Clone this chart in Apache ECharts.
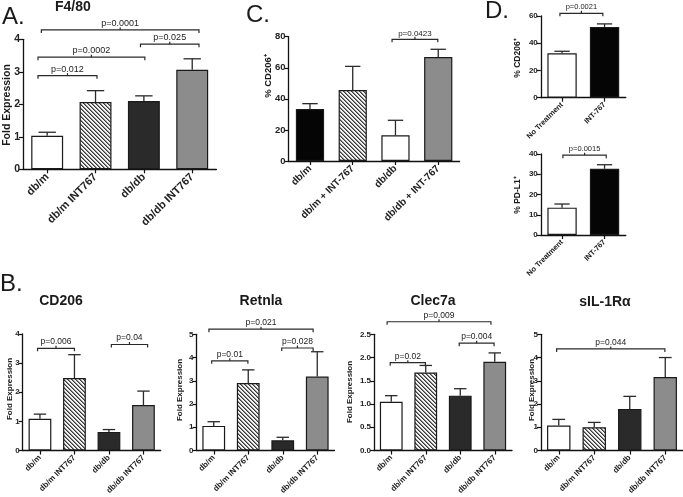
<!DOCTYPE html>
<html>
<head>
<meta charset="utf-8">
<script src="https://cdn.jsdelivr.net/npm/echarts@6/dist/echarts.min.js"></script>
<style>html,body{margin:0;padding:0;background:#fff}#c{width:683px;height:497px}</style>
</head>
<body>
<div id="c"></div>
<script>
// ---------- DATA ----------
const groupsAB = ['db/m', 'db/m INT767', 'db/db', 'db/db INT767'];
const groupsC = ['db/m', 'db/m + INT-767', 'db/db', 'db/db + INT-767'];
const groupsD = ['No Treatment', 'INT-767'];

// Panel A: F4/80
const f480Mean = [1.03, 2.07, 2.10, 3.06];
const f480Err = [0.11, 0.35, 0.16, 0.34];
const f480Brackets = [[-0.19, 1.03, 2.88, 'p=0.012'], [-0.19, 2.02, 3.45, 'p=0.0002'], [1.93, 3.14, 3.85, 'p=0.025'], [-0.12, 3.14, 4.29, 'p=0.0001']];

// Panel C: % CD206+
const cd206PctMean = [33.5, 45.7, 16.5, 66.9];
const cd206PctErr = [3.4, 15.2, 9.7, 5.0];
const cd206PctBrackets = [[1.92, 2.99, 78.3, 'p=0.0423']];

// Panel D
const dCd206Mean = [32.6, 51.9];
const dCd206Err = [1.5, 2.3];
const dCd206Brackets = [[-0.05, 0.96, 62, 'p=0.0021']];
const dPdl1Mean = [13.5, 32.7];
const dPdl1Err = [1.8, 2.0];
const dPdl1Brackets = [[0.02, 1.04, 39.4, 'p=0.0015']];

// Panel B
const bCd206Mean = [1.09, 2.49, 0.64, 1.56];
const bCd206Err = [0.16, 0.80, 0.08, 0.48];
const bCd206Brackets = [[-0.07, 1.0, 3.51, 'p=0.006'], [2.07, 3.12, 3.64, 'p=0.04']];

const retnlaMean = [1.06, 2.90, 0.44, 3.18];
const retnlaErr = [0.18, 0.57, 0.13, 1.07];
const retnlaBrackets = [[-0.06, 0.99, 3.86, 'p=0.01'], [1.97, 2.88, 4.41, 'p=0.028'], [-0.14, 2.88, 5.22, 'p=0.021']];

const clec7aMean = [1.05, 1.68, 1.18, 1.91];
const clec7aErr = [0.13, 0.15, 0.15, 0.19];
const clec7aBrackets = [[-0.03, 0.99, 1.89, 'p=0.02'], [1.97, 2.98, 2.31, 'p=0.004'], [-0.12, 2.89, 2.77, 'p=0.009']];

const sil1rMean = [1.08, 1.00, 1.79, 3.16];
const sil1rErr = [0.26, 0.21, 0.54, 0.84];
const sil1rBrackets = [[-0.06, 2.99, 4.37, 'p=0.044']];

// ---------- RENDER ----------
const FONT = '"Liberation Sans", Arial, sans-serif';
function makeHatch() {
  const c = document.createElement('canvas');
  c.width = 4; c.height = 4;
  const g = c.getContext('2d');
  g.fillStyle = '#f2f2f2'; g.fillRect(0, 0, 4, 4);
  g.fillStyle = '#3a3a3a';
  for (let i = 0; i < 4; i++) { g.fillRect(i, i, 1, 1); }
  g.fillStyle = '#8a8a8a';
  for (let i = 0; i < 4; i++) { g.fillRect((i + 1) % 4, i, 1, 1); }
  return c;
}
const hatch = { image: makeHatch(), repeat: 'repeat' };
const WHITE = '#ffffff', DARK = '#2a2a2a', GRAY = '#8c8c8c', BLACK = '#050505';

const option = { animation: false, backgroundColor: '#fff', grid: [], xAxis: [], yAxis: [], series: [], graphic: [] };

function addPanel(p) {
  const gi = option.grid.length;
  option.grid.push(Object.assign({ containLabel: false }, p.grid));
  option.xAxis.push({
    gridIndex: gi, type: 'category', data: p.cats,
    axisLine: { show: true, lineStyle: { color: '#111', width: 1.3 } },
    axisTick: { show: true, alignWithLabel: true, length: 4, lineStyle: { color: '#111', width: 1.2 } },
    axisLabel: { interval: 0, rotate: 45, fontSize: p.xFont, fontWeight: 'bold', color: '#222', margin: 6, fontFamily: FONT },
    splitLine: { show: false }
  });
  option.yAxis.push({
    gridIndex: gi, type: 'value', min: p.min, max: p.max, interval: p.interval, offset: p.yOffset || 0,
    axisLine: { show: true, lineStyle: { color: '#111', width: 1.3 } },
    axisTick: { show: true, length: 4, lineStyle: { color: '#111', width: 1.2 } },
    axisLabel: { fontSize: p.yFont, fontWeight: 'bold', color: '#222', margin: 3, fontFamily: FONT,
      formatter: p.fmt || (v => String(v)) },
    splitLine: { show: false }
  });
  option.series.push({
    type: 'bar', xAxisIndex: gi, yAxisIndex: gi, barWidth: p.barWidth || '66%',
    data: p.means.map((v, i) => ({ value: v, itemStyle: { color: p.colors[i], borderColor: '#1a1a1a', borderWidth: 1.2 } })),
    z: 2
  });
  const means = p.means, errs = p.errs;
  option.series.push({
    type: 'custom', xAxisIndex: gi, yAxisIndex: gi, z: 3,
    data: means.map((m, i) => [i, m, errs[i]]),
    renderItem: function (params, api) {
      const i = api.value(0), m = api.value(1), e = api.value(2);
      const b = api.coord([i, m]);
      const t = api.coord([i, m + e]);
      const hw = api.size([1, 0])[0] * 0.18;
      const st = { stroke: '#2a2a2a', lineWidth: 1.3 };
      return { type: 'group', children: [
        { type: 'line', shape: { x1: b[0], y1: b[1], x2: t[0], y2: t[1] }, style: st },
        { type: 'line', shape: { x1: t[0] - hw, y1: t[1], x2: t[0] + hw, y2: t[1] }, style: st }
      ] };
    }
  });
  const br = p.brackets;
  option.series.push({
    type: 'custom', xAxisIndex: gi, yAxisIndex: gi, z: 4, clip: false,
    data: br.map(b => [0, b[2]]),
    encode: { x: 0, y: 1 },
    renderItem: function (params, api) {
      const b = br[params.dataIndex];
      const c0 = api.coord([0, b[2]]);
      const c1 = api.coord([1, b[2]]);
      const band = c1[0] - c0[0];
      const x1 = c0[0] + b[0] * band, x2 = c0[0] + b[1] * band, y = c0[1];
      const mid = (x1 + x2) / 2;
      const st = { stroke: '#2a2a2a', lineWidth: 1.2, fill: null };
      return { type: 'group', children: [
        { type: 'polyline', shape: { points: [[x1, y + 3], [x1, y], [x2, y], [x2, y + 3]] }, style: st },
        { type: 'line', shape: { x1: mid, y1: y, x2: mid, y2: y - 2.5 }, style: st },
        { type: 'text', style: { text: b[3], x: mid, y: y - 2, align: 'center', verticalAlign: 'bottom',
          fontSize: p.pFont, fontFamily: FONT, fill: '#222' } }
      ] };
    }
  });
}

addPanel({ cats: groupsAB, means: f480Mean, errs: f480Err, brackets: f480Brackets, colors: [WHITE, hatch, DARK, GRAY],
  grid: { left: 23, top: 39.3, width: 193.4, height: 130 }, min: 0, max: 4, interval: 1, xFont: 11, yFont: 10.5, pFont: 9 });
addPanel({ cats: groupsC, means: cd206PctMean, errs: cd206PctErr, brackets: cd206PctBrackets, colors: [BLACK, hatch, WHITE, GRAY],
  grid: { left: 288.6, top: 36.7, width: 171, height: 124.3 }, min: 0, max: 80, interval: 20, xFont: 10, yFont: 9.5, pFont: 8 });
addPanel({ cats: groupsD, means: dCd206Mean, errs: dCd206Err, brackets: dCd206Brackets, colors: [WHITE, BLACK], barWidth: '69%',
  grid: { left: 540.8, top: 16, width: 85, height: 81.7 }, min: 0, max: 60, interval: 20, xFont: 7.5, yFont: 8, pFont: 7.5 });
addPanel({ cats: groupsD, means: dPdl1Mean, errs: dPdl1Err, brackets: dPdl1Brackets, colors: [WHITE, BLACK], barWidth: '69%',
  grid: { left: 540.8, top: 154, width: 85, height: 81 }, min: 0, max: 40, interval: 10, xFont: 7.5, yFont: 8, pFont: 7.5 });
addPanel({ cats: groupsAB, means: bCd206Mean, errs: bCd206Err, brackets: bCd206Brackets, colors: [WHITE, hatch, DARK, GRAY],
  grid: { left: 22.7, top: 334, width: 138, height: 117 }, min: 0, max: 4, interval: 1, xFont: 8, yFont: 8, pFont: 8.5 });
addPanel({ cats: groupsAB, means: retnlaMean, errs: retnlaErr, brackets: retnlaBrackets, colors: [WHITE, hatch, DARK, GRAY],
  grid: { left: 196.5, top: 334.3, width: 138, height: 116.7 }, min: 0, max: 5, interval: 1, xFont: 8, yFont: 8, pFont: 8.5 });
addPanel({ cats: groupsAB, means: clec7aMean, errs: clec7aErr, brackets: clec7aBrackets, colors: [WHITE, hatch, DARK, GRAY],
  grid: { left: 374, top: 334.3, width: 138, height: 116.7 }, min: 0, max: 2.5, interval: 0.5, xFont: 8, yFont: 8, pFont: 8.5,
  fmt: v => v.toFixed(1) });
addPanel({ cats: groupsAB, means: sil1rMean, errs: sil1rErr, brackets: sil1rBrackets, colors: [WHITE, hatch, DARK, GRAY],
  grid: { left: 541, top: 334.3, width: 142, height: 116.7 }, min: 0, max: 5, interval: 1, xFont: 8, yFont: 8, pFont: 8.5 });

function txt(text, x, y, size, bold, opts) {
  option.graphic.push(Object.assign({ type: 'text', x: x, y: y, z: 10,
    style: { text: text, fontSize: size, fontWeight: bold ? 'bold' : 'normal', fontFamily: FONT, fill: '#1a1a1a',
      align: (opts && opts.align) || 'left', verticalAlign: 'middle' } }, opts && opts.rot ? { rotation: Math.PI / 2 } : {}));
}
// panel letters & titles
txt('A.', 2, 17, 24, false);
txt('F4/80', 55, 7.5, 14, true);
txt('C.', 246, 15, 24, false);
txt('D.', 485, 11, 24, false);
txt('B.', 0, 284, 24, false);
txt('CD206', 61, 301, 14, true, { align: 'center' });
txt('Retnla', 261, 301, 14, true, { align: 'center' });
txt('Clec7a', 433, 301, 14, true, { align: 'center' });
txt('sIL-1Rα', 605, 302, 14, true, { align: 'center' });
// y-axis names
txt('Fold Expression', 7, 105, 10.5, true, { align: 'center', rot: true });
txt('% CD206⁺', 268, 76, 9.5, true, { align: 'center', rot: true });
txt('% CD206⁺', 517.5, 58, 8.5, true, { align: 'center', rot: true });
txt('% PD-L1⁺', 517.5, 195, 8.5, true, { align: 'center', rot: true });
txt('Fold Expression', 9.5, 389, 8, true, { align: 'center', rot: true });
txt('Fold Expression', 179.5, 390, 8, true, { align: 'center', rot: true });
txt('Fold Expression', 350, 392, 8, true, { align: 'center', rot: true });
txt('Fold Expression', 532, 390, 8, true, { align: 'center', rot: true });

const chart = echarts.init(document.getElementById('c'), null, { renderer: 'canvas' });
chart.setOption(option);
</script>
</body>
</html>
